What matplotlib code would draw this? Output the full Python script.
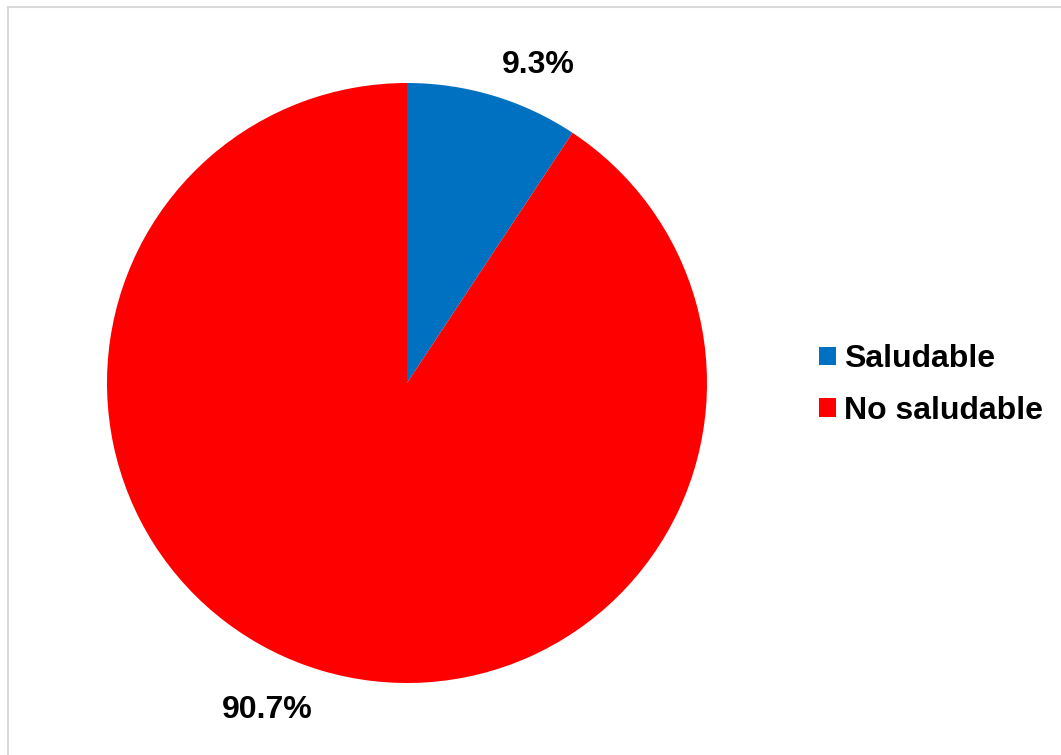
import matplotlib
matplotlib.use("Agg")
import matplotlib.pyplot as plt
from matplotlib.patches import Rectangle

categories = ["Saludable", "No saludable"]
shares = [9.3, 90.7]
colors = ["#0070C0", "#FF0000"]
pct_labels = ["9.3%", "90.7%"]

plt.rcParams["font.family"] = ["Liberation Sans", "DejaVu Sans"]

W, H = 1061, 755
fig = plt.figure(figsize=(W / 100, H / 100), dpi=100)

# chart area border
fig.patches.append(Rectangle((8 / W, -0.05), 1.1, (H - 7) / H + 0.05,
                             transform=fig.transFigure, fill=False,
                             edgecolor="#D9D9D9", linewidth=1.5))

cx, cy, r = 407, 383, 300
ax = fig.add_axes([(cx - r) / W, (H - cy - r) / H, 2 * r / W, 2 * r / H])
wedges, _ = ax.pie(shares, colors=colors, startangle=90, counterclock=False,
                   radius=1.0, wedgeprops=dict(linewidth=0))
ax.set_xlim(-1, 1)
ax.set_ylim(-1, 1)
ax.set_aspect("equal")
ax.axis("off")

# percentage labels outside the slices
label_pos = [(0.437, 1.06), (-0.467, -1.09)]
for (x, y), txt in zip(label_pos, pct_labels):
    ax.text(x, y, txt, ha="center", va="center", fontsize=23,
            fontweight="bold", color="black")

leg = fig.legend(wedges, categories, loc="center left",
                 bbox_to_anchor=(819 / W, (H - 385) / H), frameon=False,
                 prop=dict(size=23, weight="bold"), handlelength=0.52,
                 handleheight=0.52, handletextpad=0.25, labelspacing=0.66,
                 borderaxespad=0, borderpad=0)

fig.savefig("out.png", dpi=100, facecolor="white")
